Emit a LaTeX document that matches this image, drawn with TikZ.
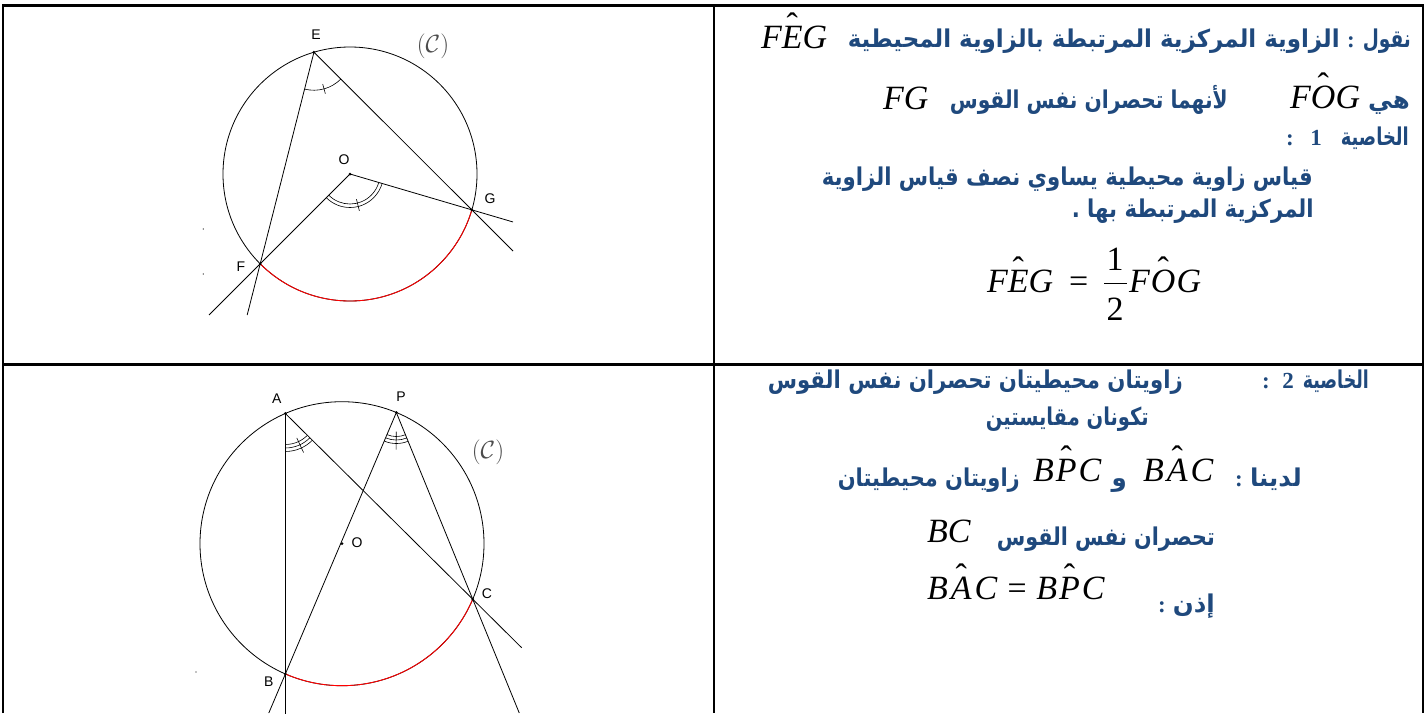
\documentclass[tikz,border=0pt]{standalone}
\usepackage{fontspec}
\usepackage{amsmath}
\usepackage{graphicx}
\usetikzlibrary{calc}
\setmainfont{Liberation Serif}
\newfontfamily\arabicfont[Script=Arabic]{DejaVu Sans}
\newfontfamily\lblfont{Liberation Sans}
\TeXXeTstate=1
\definecolor{artxt}{RGB}{31,73,125}
\newcommand\hatx[1]{\ooalign{#1\cr\hidewidth\raisebox{0.34em}{\upshape\char"02C6}\hidewidth\cr}}
\newcommand\arw[2]{\resizebox{#1pt}{\height}{#2}}
\tikzset{
 ar/.style={text=artxt, font=\arabicfont\bfseries\fontsize{24.5}{26}\selectfont, inner sep=0pt, anchor=base east},
 arcol/.style={text=artxt, font=\bfseries\fontsize{23}{24}\selectfont, inner sep=0pt, anchor=base east},
 ardig/.style={text=artxt, font=\bfseries\fontsize{23}{24}\selectfont, inner sep=0pt, anchor=base east},
 mt/.style={font=\fontsize{34}{34}\selectfont\itshape, inner sep=0pt, anchor=base west},
 mtu/.style={font=\fontsize{34}{34}\selectfont, inner sep=0pt, anchor=base},
 lbl/.style={font=\lblfont\fontsize{14}{14}\selectfont, inner sep=0pt},
 cal/.style={font=\fontsize{25}{25}\selectfont, inner sep=0pt, text=black!70},
 tbl/.style={line width=2.5pt},
 geo/.style={line width=0.8pt},
 arcred/.style={line width=0.9pt, red},
 angmark/.style={line width=0.6pt},
}
\begin{document}
\begin{tikzpicture}[x=1pt,y=-1pt]
\useasboundingbox (0,0) rectangle (1425,713);
% table
\draw[tbl] (3,713) -- (3,5.5) -- (1423,5.5) -- (1423,713);
\draw[tbl] (714,5.5) -- (714,713);
\draw[tbl] (3,364.5) -- (1423,364.5);

% ---------- figure 1 ----------
\coordinate (O1) at (350,174);
\coordinate (E) at ($(O1)+(106.5:127pt)$);
\coordinate (G) at ($(O1)+(-16.4:127pt)$);
\coordinate (F) at ($(O1)+(-135:127pt)$);
\coordinate (EFend) at ($(E)!1.242!(F)$);
\coordinate (OFend) at ($(O1)!1.570!(F)$);
\coordinate (EGend) at ($(E)!1.261!(G)$);
\coordinate (OGend) at ($(O1)!1.338!(G)$);
\draw[geo] (O1) circle[radius=127pt];
\draw[arcred] (F) arc[start angle=-135, end angle=-16.4, radius=127pt];
\draw[geo] (E) -- (EFend);
\draw[geo] (E) -- (EGend);
\draw[geo] (O1) -- (OFend);
\draw[geo] (O1) -- (OGend);
% angle marks
\draw[angmark] ($(E)+(-104.2:38pt)$) arc[start angle=-104.2, end angle=-45, radius=38pt];
\draw[angmark] ($(E)+(-74.6:33pt)$) -- ($(E)+(-74.6:43pt)$);
\draw[angmark] ($(O1)+(-135:30pt)$) arc[start angle=-135, end angle=-16.4, radius=30pt];
\draw[angmark] ($(O1)+(-135:33.5pt)$) arc[start angle=-135, end angle=-16.4, radius=33.5pt];
\draw[angmark] ($(O1)+(-75.7:26pt)$) -- ($(O1)+(-75.7:38pt)$);
\foreach \p in {E,O1,G,F} \fill (\p) circle[radius=1.5pt];
\node[lbl] (lE) at (316,35) {E};
\node[lbl] (lO1) at (344,160) {O};
\node[lbl] (lG) at (490,199) {G};
\node[lbl] (lF) at (241,266.5) {F};
\node[cal] (lC1) at (433,46) {$(\mathcal{C})$};
\fill (203.3,229) circle[radius=0.6pt];
\fill (203.3,274) circle[radius=0.6pt];

% ---------- figure 2 ----------
\coordinate (O2) at (342,543.7);
\coordinate (A) at ($(O2)+(113.5:142pt)$);
\coordinate (B) at ($(O2)+(-113.5:142pt)$);
\coordinate (P) at ($(O2)+(67.5:142pt)$);
\coordinate (C) at ($(O2)+(-23:142pt)$);
\coordinate (ABend) at ($(A)!1.154!(B)$);
\coordinate (PBend) at ($(P)!1.1496!(B)$);
\coordinate (ACend) at ($(A)!1.2616!(C)$);
\coordinate (PCend) at ($(P)!1.6095!(C)$);
\draw[geo] (O2) circle[radius=142pt];
\draw[arcred] (B) arc[start angle=-113.5, end angle=-23, radius=142pt];
\draw[geo] (A) -- (ABend);
\draw[geo] (P) -- (PBend);
\draw[geo] (A) -- (ACend);
\draw[geo] (P) -- (PCend);
% angle marks
\foreach \r in {31,34.5,38}
  \draw[angmark] ($(A)+(-90:\r pt)$) arc[start angle=-90, end angle=-44.8, radius=\r pt];
\draw[angmark] ($(A)+(-65:27pt)$) -- ($(A)+(-65:43pt)$);
\foreach \r in {24,27.5,31}
  \draw[angmark] ($(P)+(-113:\r pt)$) arc[start angle=-113, end angle=-67.7, radius=\r pt];
\draw[angmark] ($(P)+(-90.3:19pt)$) -- ($(P)+(-90.3:37pt)$);
\foreach \p in {A,P,O2,C,B} \fill (\p) circle[radius=1.5pt];
\node[lbl] (lA) at (276.7,399) {A};
\node[lbl] (lP) at (401,397) {P};
\node[lbl] (lO2) at (357,543) {O};
\node[lbl] (lC) at (487,594) {C};
\node[lbl] (lB) at (268.7,682) {B};
\node[cal] (lC2) at (488,452) {$(\mathcal{C})$};
\fill (196,672) circle[radius=0.6pt];

% ---------- text, top cell ----------
\node[ar] (t1a) at (1411,47) {\arw{48}{\beginR نقول\endR}};
\node[arcol] (t1b) at (1355,47) {:};
\node[ar] (t1c) at (1340,47) {\arw{492}{\beginR الزاوية المركزية المرتبطة بالزاوية المحيطية\endR}};
\node[mt] (t1m) at (761,48) {F\hatx{E}G};
\node[ar] (t2a) at (1410,108) {\beginR هي\endR};
\node[mt] (t2m) at (1290,108) {F\hatx{O}G};
\node[ar] (t2b) at (1228,108) {\arw{278}{\beginR لأنهما تحصران نفس القوس\endR}};
\node[mt] (t2m2) at (883,109) {FG};
\node[ar] (t3a) at (1409,145) {\arw{68}{\beginR الخاصية\endR}};
\node[ardig] (t3b) at (1322,145) {1};
\node[arcol] (t3c) at (1294,145) {:};
\node[ar] (t4) at (1313,185) {\arw{491}{\beginR قياس زاوية محيطية يساوي نصف قياس الزاوية\endR}};
\node[ar] (t5) at (1314,217) {\arw{242}{\beginR المركزية المرتبطة بها .\endR}};
\node[mt] (f1) at (987,292) {F\hatx{E}G};
\node[mtu, anchor=base west] (feq) at (1069,292) {=};
\node[mtu] (fnum) at (1115,270) {1};
\node[mtu] (fden) at (1115,320) {2};
\draw[line width=1pt] (1104,283) -- (1127,283);
\node[mt] (f2) at (1129,292) {F\hspace{1pt}\hatx{O}\hspace{1pt}G};

% ---------- text, bottom cell ----------
\node[ar] (b1a) at (1369,388) {\arw{66}{\beginR الخاصية\endR}};
\node[ardig] (b1b) at (1294,388) {2};
\node[arcol] (b1c) at (1270,388) {:};
\node[ar] (b1d) at (1183,388) {\arw{415}{\beginR زاويتان محيطيتان تحصران نفس القوس\endR}};
\node[ar] (b2) at (1149,425) {\arw{163}{\beginR تكونان مقايستين\endR}};
\node[ar] (b3a) at (1302,486) {\beginR لدينا\endR};
\node[arcol] (b3b) at (1243,486) {:};
\node[mt] (b3m1) at (1143,481) {B\hspace{3pt}\hatx{A}\hspace{3pt}C};
\node[ar] (b3c) at (1127,486) {\beginR و\endR};
\node[mt] (b3m2) at (1033,481) {B\hspace{2pt}\hatx{P}\hspace{2pt}C};
\node[ar] (b3d) at (1020,486) {\arw{182}{\beginR زاويتان محيطيتان\endR}};
\node[ar] (b4) at (1215,545) {\arw{218}{\beginR تحصران نفس القوس\endR}};
\node[mt] (b4m) at (927,542) {BC};
\node[mt] (b5m) at (927,599) {B\hspace{3pt}\hatx{A}\hspace{3pt}C\hspace{8pt}=\hspace{8pt}B\hspace{2pt}\hatx{P}\hspace{2pt}C};
\node[ar] (b5a) at (1215,612) {\beginR إذن\endR};
\node[arcol] (b5b) at (1166,612) {:};
\end{tikzpicture}
\end{document}
